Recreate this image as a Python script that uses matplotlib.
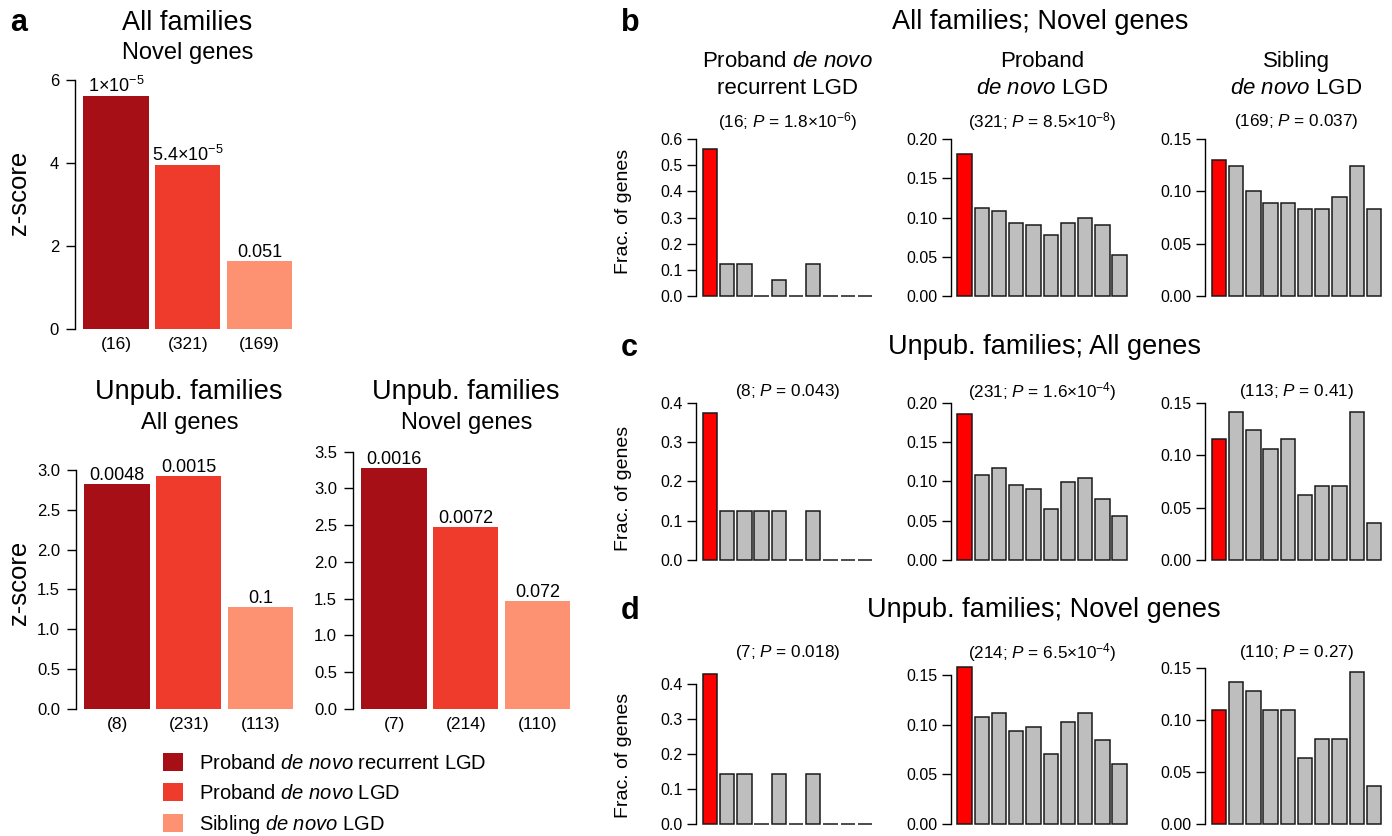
import matplotlib
matplotlib.use("Agg")
import matplotlib.pyplot as plt
from matplotlib.patches import Patch

plt.rcParams['font.family'] = ['Liberation Sans', 'DejaVu Sans']
plt.rcParams['mathtext.fontset'] = 'custom'
plt.rcParams['mathtext.rm'] = 'Liberation Sans'
plt.rcParams['mathtext.it'] = 'Liberation Sans:italic'
plt.rcParams['mathtext.bf'] = 'Liberation Sans:bold'

# ---- panel a: z-scores per gene class ----
group_labels = ["Proband $\\it{de\\ novo}$ recurrent LGD",
                "Proband $\\it{de\\ novo}$ LGD",
                "Sibling $\\it{de\\ novo}$ LGD"]
group_colors = ["#A50F15", "#EF3B2C", "#FC9272"]

z_all_novel = [5.62, 3.95, 1.64]
p_all_novel = ["1×10$^{-5}$", "5.4×10$^{-5}$", "0.051"]
n_all_novel = [16, 321, 169]

z_unpub_all = [2.82, 2.92, 1.28]
p_unpub_all = ["0.0048", "0.0015", "0.1"]
n_unpub_all = [8, 231, 113]

z_unpub_novel = [3.28, 2.47, 1.47]
p_unpub_novel = ["0.0016", "0.0072", "0.072"]
n_unpub_novel = [7, 214, 110]

# ---- panels b-d: genes per decile (first decile highlighted) ----
counts_b = [[9, 2, 2, 0, 1, 0, 2, 0, 0, 0],
            [58, 36, 35, 30, 29, 25, 30, 32, 29, 17],
            [22, 21, 17, 15, 15, 14, 14, 16, 21, 14]]
counts_c = [[3, 1, 1, 1, 1, 0, 1, 0, 0, 0],
            [43, 25, 27, 22, 21, 15, 23, 24, 18, 13],
            [13, 16, 14, 12, 13, 7, 8, 8, 16, 4]]
counts_d = [[3, 1, 1, 0, 1, 0, 1, 0, 0, 0],
            [34, 23, 24, 20, 21, 15, 22, 24, 18, 13],
            [12, 15, 14, 12, 12, 7, 9, 9, 16, 4]]
totals_b = [16, 321, 169]
totals_c = [8, 231, 113]
totals_d = [7, 214, 110]
pvals_b = ["1.8×10$^{-6}$", "8.5×10$^{-8}$", "0.037"]
pvals_c = ["0.043", "1.6×10$^{-4}$", "0.41"]
pvals_d = ["0.018", "6.5×10$^{-4}$", "0.27"]

col_titles = [("Proband $\\it{de\\ novo}$", "recurrent LGD"),
              ("Proband", "$\\it{de\\ novo}$ LGD"),
              ("Sibling", "$\\it{de\\ novo}$ LGD")]

W, H = 1392, 836
fig = plt.figure(figsize=(W / 100, H / 100), dpi=100)


def px_axes(x0, y_top, x1, y_bot):
    return fig.add_axes([x0 / W, 1 - y_bot / H, (x1 - x0) / W, (y_bot - y_top) / H])


def ftxt(x, y, s, **kw):
    kw.setdefault("ha", "center")
    kw.setdefault("va", "center")
    return fig.text(x / W, 1 - y / H, s, **kw)


def style_left_axis(ax, ticks, labels, fs, tick_len, pad):
    for side in ("top", "right", "bottom"):
        ax.spines[side].set_visible(False)
    ax.spines["left"].set_bounds(ticks[0], ticks[-1])
    ax.spines["left"].set_linewidth(1.0)
    ax.set_yticks(ticks, labels)
    ax.tick_params(axis="y", direction="out", length=tick_len, width=1.0,
                   labelsize=fs, pad=pad)


def zscore_panel(axis_x, y_zero, y_top, top_val, ticks, fmt, z, plabels, ns):
    unit = 65.3                       # pixels per bar width
    lo, hi = -0.028, 3.428            # R barplot range, space = 0.1
    ppu = (y_zero - y_top) / top_val
    pad = 0.01 * top_val
    ax = px_axes(axis_x, y_top, axis_x + (hi - lo) * unit, y_zero + pad * ppu)
    xs = [0.6 + 1.1 * i for i in range(len(z))]
    ax.bar(xs, z, width=1.0, color=group_colors, edgecolor="none")
    ax.set_xlim(lo, hi)
    ax.set_ylim(-pad, top_val)
    style_left_axis(ax, ticks, [fmt.format(t) for t in ticks], 12, 6.5, 5)
    ax.set_xticks(xs, [f"({n})" for n in ns])
    ax.tick_params(axis="x", length=0, labelsize=12.5, pad=4)
    for x, v, lab in zip(xs, z, plabels):
        ax.annotate(lab, (x, v), xytext=(0, 3), textcoords="offset points",
                    ha="center", va="baseline", fontsize=13)
    return ax


# panel a, top
zscore_panel(75, 329, 80.3, 6, [0, 2, 4, 6], "{:g}",
             z_all_novel, p_all_novel, n_all_novel)
ftxt(187.5, 23, "All families", fontsize=19.5)
ftxt(187.5, 53, "Novel genes", fontsize=17)
ftxt(19, 193, "z-score", rotation=90, fontsize=18.5)

# panel a, bottom left
zscore_panel(76, 708.7, 470, 3.0, [0, 0.5, 1, 1.5, 2, 2.5, 3], "{:.1f}",
             z_unpub_all, p_unpub_all, n_unpub_all)
ftxt(189, 392, "Unpub. families", fontsize=19.5)
ftxt(190, 423, "All genes", fontsize=17)
ftxt(19, 583, "z-score", rotation=90, fontsize=18.5)

# panel a, bottom right
zscore_panel(353, 708.7, 451.7, 3.5, [0, 0.5, 1, 1.5, 2, 2.5, 3, 3.5], "{:.1f}",
             z_unpub_novel, p_unpub_novel, n_unpub_novel)
ftxt(466, 392, "Unpub. families", fontsize=19.5)
ftxt(467, 423, "Novel genes", fontsize=17)

ftxt(10, 23, "a", ha="left", fontsize=22, fontweight="bold")

fig.legend(handles=[Patch(facecolor=c, edgecolor="none") for c in group_colors],
           labels=group_labels, loc="upper left",
           bbox_to_anchor=(163 / W, 1 - 753 / H), frameon=False, fontsize=14.5,
           handlelength=1.0, handleheight=1.0, handletextpad=0.8,
           labelspacing=0.5, borderpad=0, borderaxespad=0)


# ---- panels b-d ----
def frac_panel(axis_x, y_zero, y_top, top_val, frac, ticks, fmt):
    unit = 14.35
    lo, hi = -0.272, 12.472           # R barplot range, space = 0.2
    ppu = (y_zero - y_top) / top_val
    pad = 0.03 * top_val
    ax = px_axes(axis_x, y_top, axis_x + (hi - lo) * unit, y_zero + pad * ppu)
    xs = [0.7 + 1.2 * i for i in range(len(frac))]
    colors = ["#FF0000"] + ["#BEBEBE"] * (len(frac) - 1)
    ax.bar(xs, frac, width=1.0, color=colors, edgecolor="#1a1a1a", linewidth=1.1)
    ax.set_xlim(lo, hi)
    ax.set_ylim(-pad, top_val)
    style_left_axis(ax, ticks, [fmt.format(t) for t in ticks], 11.5, 6.5, 3)
    ax.set_xticks([])
    return ax


col_axis_x = [696, 950.7, 1205]
col_center = [x + 91.5 for x in col_axis_x]

rows = [
    dict(counts=counts_b, totals=totals_b, pvals=pvals_b, y_zero=296.3, y_top=139,
         tops=[0.6, 0.2, 0.15], p_y=121.7, frac_y=211.5),
    dict(counts=counts_c, totals=totals_c, pvals=pvals_c, y_zero=560, y_top=402.7,
         tops=[0.4, 0.2, 0.15], p_y=391.7, frac_y=488),
    dict(counts=counts_d, totals=totals_d, pvals=pvals_d, y_zero=823.7, y_top=666.4,
         tops=[0.451, 0.159, 0.1513], p_y=653, frac_y=755),
]
tick_sets = [
    [[0, 0.1, 0.2, 0.3, 0.4, 0.5, 0.6], [0, 0.05, 0.1, 0.15, 0.2], [0, 0.05, 0.1, 0.15]],
    [[0, 0.1, 0.2, 0.3, 0.4], [0, 0.05, 0.1, 0.15, 0.2], [0, 0.05, 0.1, 0.15]],
    [[0, 0.1, 0.2, 0.3, 0.4], [0, 0.05, 0.1, 0.15], [0, 0.05, 0.1, 0.15]],
]
tick_fmts = ["{:.1f}", "{:.2f}", "{:.2f}"]

for r, row in enumerate(rows):
    for c in range(3):
        frac = [k / row["totals"][c] for k in row["counts"][c]]
        frac_panel(col_axis_x[c], row["y_zero"], row["y_top"], row["tops"][c],
                   frac, tick_sets[r][c], tick_fmts[c])
        ftxt(col_center[c], row["p_y"],
             f"({row['totals'][c]}; $\\it{{P}}$ = {row['pvals'][c]})", fontsize=12.3)
    ftxt(624, row["frac_y"], "Frac. of genes", rotation=90, fontsize=14)

for c in range(3):
    ftxt(col_center[c], 61.7, col_titles[c][0], fontsize=16)
    ftxt(col_center[c], 88.3, col_titles[c][1], fontsize=16)

ftxt(1040, 22, "All families; Novel genes", fontsize=19.5)
ftxt(1044, 347, "Unpub. families; All genes", fontsize=19.5)
ftxt(1044, 610, "Unpub. families; Novel genes", fontsize=19.5)
ftxt(621, 23, "b", ha="left", fontsize=22, fontweight="bold")
ftxt(621, 348, "c", ha="left", fontsize=22, fontweight="bold")
ftxt(621, 611, "d", ha="left", fontsize=22, fontweight="bold")

fig.savefig("out.png", dpi=100)
